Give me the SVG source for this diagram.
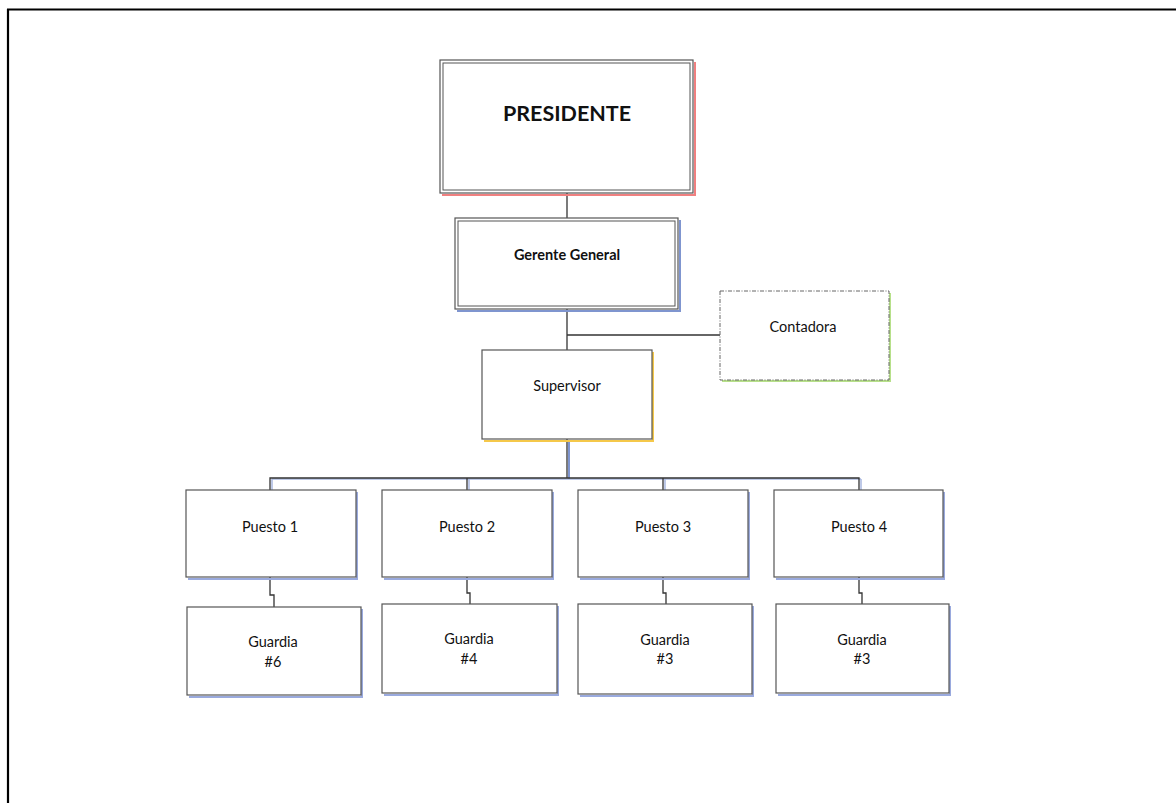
<svg xmlns="http://www.w3.org/2000/svg" width="1176" height="803" viewBox="0 0 1176 803">
<style>
text{font-family:Lato,"Liberation Sans",sans-serif;fill:#111;text-anchor:middle;dominant-baseline:central}
.box{fill:#fff;stroke:#555;stroke-width:1.2}
.inner{fill:none;stroke:#555;stroke-width:1}
.sh{fill:none;stroke-width:2}
.conn{fill:none;stroke:#333;stroke-width:1.3}
.lbl{font-size:14.5px}
</style>
<rect width="1176" height="803" fill="#fff"/>
<g id="frame">
<line x1="7" y1="9.5" x2="1176" y2="9.5" stroke="#000" stroke-width="2.2"/>
<line x1="8" y1="9" x2="8" y2="803" stroke="#000" stroke-width="2.2"/>
</g>
<g id="connectors">
<line class="conn" x1="567" y1="193" x2="567" y2="219"/>
<line class="conn" x1="567" y1="309" x2="567" y2="350"/>
<line class="conn" x1="567" y1="335" x2="720" y2="335"/>
<line x1="569" y1="440" x2="569" y2="479" stroke="#7f95cf" stroke-width="2"/>
<line class="conn" x1="567" y1="439" x2="567" y2="478"/>
<path d="M272 479H861M272 479V490M469 479V490M665 479V490M861 479V490" fill="none" stroke="#a9b8e0" stroke-width="1.5"/>
<path class="conn" d="M270 490V478H859V490M467 478V490M663 478V490"/>
<path class="conn" d="M270 577V595H274V607"/>
<path class="conn" d="M467 577V593H470V604"/>
<path class="conn" d="M663 577V593H666V604"/>
<path class="conn" d="M859 577V593H862V604"/>
</g>
<g id="presidente">
<path class="sh" d="M695 62V195H442" stroke="#f08080"/>
<rect class="box" x="440" y="60" width="253" height="133"/>
<rect class="inner" x="443" y="63" width="247" height="127"/>
<text x="567" y="113" style="font-size:21.5px;font-weight:bold">PRESIDENTE</text>
</g>
<g id="gerente">
<path class="sh" d="M680 220V311H457" stroke="#7f95cf"/>
<rect class="box" x="455" y="218" width="223" height="91"/>
<rect class="inner" x="458" y="221" width="217" height="85"/>
<text x="567" y="254" style="font-size:14.5px;font-weight:bold">Gerente General</text>
</g>
<g id="contadora">
<path class="sh" d="M890 293V381H722" stroke="#b7e08a" stroke-width="1.5"/>
<rect x="720" y="291" width="169" height="89" fill="#fff" stroke="#666" stroke-width="1" stroke-dasharray="4 1.5 1 1.5"/>
<text class="lbl" x="803" y="326">Contadora</text>
</g>
<g id="supervisor">
<path class="sh" d="M653 352V441H484" stroke="#f5c84a"/>
<rect class="box" x="482" y="350" width="170" height="89"/>
<text class="lbl" x="567" y="385">Supervisor</text>
</g>
<g id="puesto1">
<path class="sh" d="M357 492V579H188" stroke="#9aaade"/>
<rect class="box" x="186" y="490" width="170" height="87"/>
<text class="lbl" x="270" y="526">Puesto 1</text>
</g>
<g id="puesto2">
<path class="sh" d="M553 492V579H384" stroke="#9aaade"/>
<rect class="box" x="382" y="490" width="170" height="87"/>
<text class="lbl" x="467" y="526">Puesto 2</text>
</g>
<g id="puesto3">
<path class="sh" d="M749 492V579H580" stroke="#9aaade"/>
<rect class="box" x="578" y="490" width="170" height="87"/>
<text class="lbl" x="663" y="526">Puesto 3</text>
</g>
<g id="puesto4">
<path class="sh" d="M944 492V579H776" stroke="#9aaade"/>
<rect class="box" x="774" y="490" width="169" height="87"/>
<text class="lbl" x="859" y="526">Puesto 4</text>
</g>
<g id="guardia1">
<path class="sh" d="M362 609V697H189" stroke="#9aaade"/>
<rect class="box" x="187" y="607" width="174" height="88"/>
<text class="lbl" x="273" y="641">Guardia</text>
<text class="lbl" x="273" y="661">#6</text>
</g>
<g id="guardia2">
<path class="sh" d="M558 606V695H384" stroke="#9aaade"/>
<rect class="box" x="382" y="604" width="175" height="89"/>
<text class="lbl" x="469" y="638">Guardia</text>
<text class="lbl" x="469" y="658">#4</text>
</g>
<g id="guardia3">
<path class="sh" d="M753 606V696H580" stroke="#9aaade"/>
<rect class="box" x="578" y="604" width="174" height="90"/>
<text class="lbl" x="665" y="639">Guardia</text>
<text class="lbl" x="665" y="658">#3</text>
</g>
<g id="guardia4">
<path class="sh" d="M950 606V695H778" stroke="#9aaade"/>
<rect class="box" x="776" y="604" width="173" height="89"/>
<text class="lbl" x="862" y="639">Guardia</text>
<text class="lbl" x="862" y="658">#3</text>
</g>
</svg>
